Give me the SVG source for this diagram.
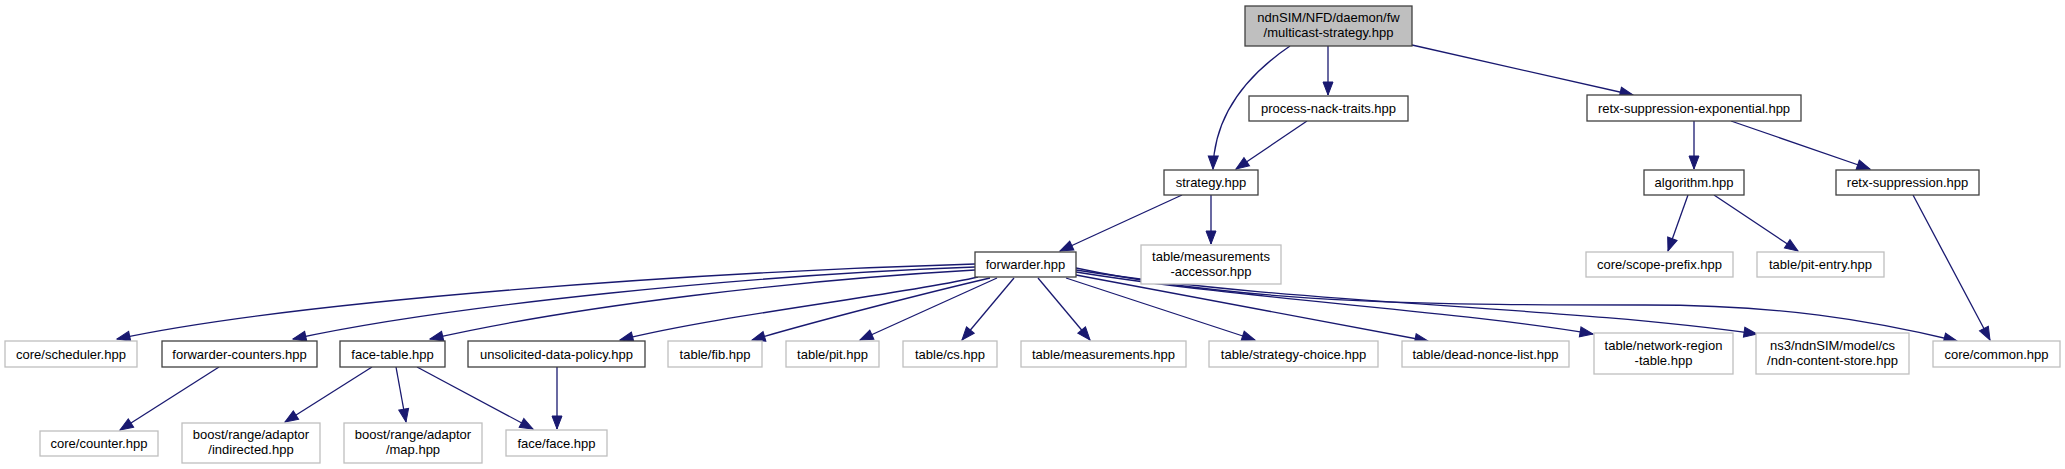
<svg xmlns="http://www.w3.org/2000/svg" width="2065" height="469" viewBox="0 0 2065 469">
<style>
text{font-family:"Liberation Sans",Arial,sans-serif;font-size:13px;fill:#000;text-anchor:middle}
.b{fill:#fff;stroke:#404040;stroke-width:1.3}
.g{fill:#fff;stroke:#bfbfbf;stroke-width:1.3}
.r{fill:#bfbfbf;stroke:#404040;stroke-width:1.3}
.e{fill:none;stroke:#191970;stroke-width:1.3;marker-end:url(#ah)}
</style>
<defs>
<marker id="ah" markerWidth="15" markerHeight="12" refX="13" refY="5" orient="auto" markerUnits="userSpaceOnUse" overflow="visible">
<path d="M0,0 L13,5 L0,10 z" fill="#191970" stroke="#191970" stroke-width="1"/>
</marker>
</defs>
<rect width="2065" height="469" fill="#fff"/>
<g id="edges">
<path class="e" d="M1290,46 C1240,80 1214,120 1213,169"/>
<path class="e" d="M1328,46 L1328,95"/>
<path class="e" d="M1412,45 L1633,95"/>
<path class="e" d="M1307,121 L1236,169"/>
<path class="e" d="M1182,195 L1060,251"/>
<path class="e" d="M1211,195 L1211,244"/>
<path class="e" d="M1694,121 L1694,169"/>
<path class="e" d="M1731,121 L1870,169"/>
<path class="e" d="M1688,195 L1668,251"/>
<path class="e" d="M1714,195 L1798,251"/>
<path class="e" d="M1913,195 L1990,340"/>
<path class="e" d="M219,367 L120,430"/>
<path class="e" d="M372,367 L285,422"/>
<path class="e" d="M396,367 L406,422"/>
<path class="e" d="M417,367 L533,429"/>
<path class="e" d="M557,367 L557,429"/>
<path class="e" d="M975,264 C700,272 300,300 117,339"/>
<path class="e" d="M975,267 C750,275 450,305 293,339"/>
<path class="e" d="M975,270 C800,280 580,305 430,339"/>
<path class="e" d="M978,277 C900,295 720,315 620,340"/>
<path class="e" d="M990,278 C930,292 820,320 752,340"/>
<path class="e" d="M997,278 L860,340"/>
<path class="e" d="M1014,278 L962,340"/>
<path class="e" d="M1038,278 L1090,340"/>
<path class="e" d="M1066,278 L1255,340"/>
<path class="e" d="M1076,275 L1428,341"/>
<path class="e" d="M1076,272 C1250,300 1450,310 1593,334"/>
<path class="e" d="M1076,270 C1300,305 1550,305 1757,334"/>
<path class="e" d="M1076,268 C1250,305 1450,305 1645,305 C1780,305 1870,320 1957,341"/>
</g>
<g id="n0"><rect class="r" x="1245" y="6" width="167" height="40"/><text x="1328.5" y="22">ndnSIM/NFD/daemon/fw</text><text x="1328.5" y="37">/multicast-strategy.hpp</text></g>
<g id="n1"><rect class="b" x="1249" y="96" width="159" height="25"/><text x="1328.5" y="113">process-nack-traits.hpp</text></g>
<g id="n2"><rect class="b" x="1587" y="95" width="214" height="26"/><text x="1694" y="112.5">retx-suppression-exponential.hpp</text></g>
<g id="n3"><rect class="b" x="1164" y="170" width="94" height="25"/><text x="1211" y="187">strategy.hpp</text></g>
<g id="n4"><rect class="b" x="1644" y="170" width="100" height="25"/><text x="1694" y="187">algorithm.hpp</text></g>
<g id="n5"><rect class="b" x="1836" y="170" width="143" height="25"/><text x="1907.5" y="187">retx-suppression.hpp</text></g>
<g id="n6"><rect class="g" x="1141" y="245" width="140" height="39"/><text x="1211" y="261">table/measurements</text><text x="1211" y="275.5">-accessor.hpp</text></g>
<g id="n7"><rect class="b" x="975" y="252" width="101" height="25"/><text x="1025.5" y="269">forwarder.hpp</text></g>
<g id="n8"><rect class="g" x="1586" y="252" width="147" height="25"/><text x="1659.5" y="269">core/scope-prefix.hpp</text></g>
<g id="n9"><rect class="g" x="1757" y="252" width="127" height="25"/><text x="1820.5" y="269">table/pit-entry.hpp</text></g>
<g id="n10"><rect class="g" x="5" y="341" width="132" height="26"/><text x="71" y="358.5">core/scheduler.hpp</text></g>
<g id="n11"><rect class="b" x="162" y="341" width="155" height="26"/><text x="239.5" y="358.5">forwarder-counters.hpp</text></g>
<g id="n12"><rect class="b" x="340" y="341" width="105" height="26"/><text x="392.5" y="358.5">face-table.hpp</text></g>
<g id="n13"><rect class="b" x="468" y="341" width="177" height="26"/><text x="556.5" y="358.5">unsolicited-data-policy.hpp</text></g>
<g id="n14"><rect class="g" x="668" y="341" width="94" height="26"/><text x="715" y="358.5">table/fib.hpp</text></g>
<g id="n15"><rect class="g" x="786" y="341" width="93" height="26"/><text x="832.5" y="358.5">table/pit.hpp</text></g>
<g id="n16"><rect class="g" x="903" y="341" width="94" height="26"/><text x="950" y="358.5">table/cs.hpp</text></g>
<g id="n17"><rect class="g" x="1021" y="341" width="165" height="26"/><text x="1103.5" y="358.5">table/measurements.hpp</text></g>
<g id="n18"><rect class="g" x="1209" y="341" width="169" height="26"/><text x="1293.5" y="358.5">table/strategy-choice.hpp</text></g>
<g id="n19"><rect class="g" x="1402" y="341" width="167" height="26"/><text x="1485.5" y="358.5">table/dead-nonce-list.hpp</text></g>
<g id="n20"><rect class="g" x="1594" y="333" width="139" height="41"/><text x="1663.5" y="350">table/network-region</text><text x="1663.5" y="364.5">-table.hpp</text></g>
<g id="n21"><rect class="g" x="1756" y="333" width="153" height="41"/><text x="1832.5" y="350">ns3/ndnSIM/model/cs</text><text x="1832.5" y="364.5">/ndn-content-store.hpp</text></g>
<g id="n22"><rect class="g" x="1933" y="341" width="127" height="26"/><text x="1996.5" y="358.5">core/common.hpp</text></g>
<g id="n23"><rect class="g" x="40" y="431" width="118" height="25"/><text x="99" y="448">core/counter.hpp</text></g>
<g id="n24"><rect class="g" x="182" y="423" width="138" height="40"/><text x="251" y="439">boost/range/adaptor</text><text x="251" y="454">/indirected.hpp</text></g>
<g id="n25"><rect class="g" x="344" y="423" width="138" height="40"/><text x="413" y="439">boost/range/adaptor</text><text x="413" y="454">/map.hpp</text></g>
<g id="n26"><rect class="g" x="506" y="430" width="101" height="26"/><text x="556.5" y="447.5">face/face.hpp</text></g>
</svg>
